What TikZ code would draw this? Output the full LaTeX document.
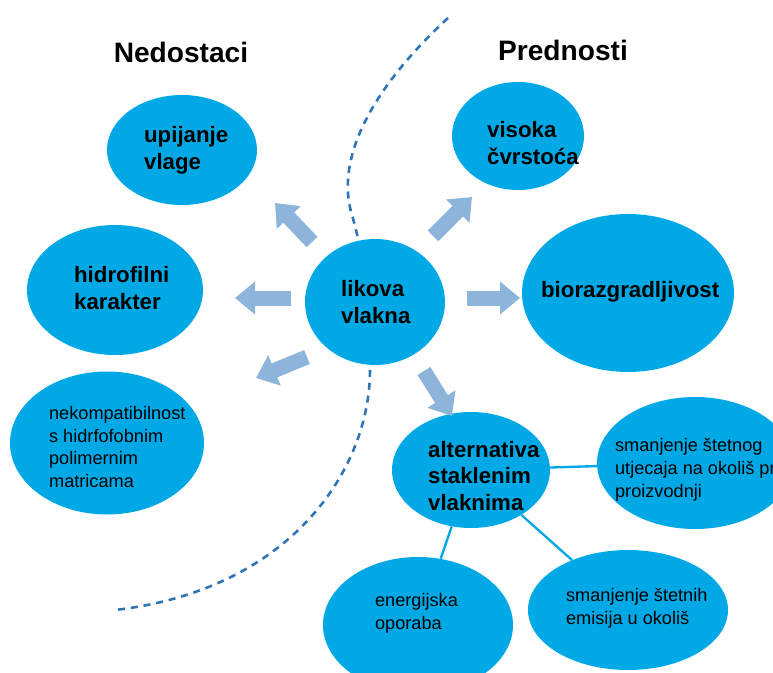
\documentclass[tikz,border=0pt]{standalone}
\usepackage{fontspec}
\setmainfont{Liberation Sans}
\usetikzlibrary{shapes.geometric,arrows.meta}

\definecolor{bubblecol}{RGB}{0,169,230}
\definecolor{arrowcol}{RGB}{141,180,218}
\definecolor{curvecol}{RGB}{46,117,182}

\tikzset{
  bubble/.style={ellipse, fill=bubblecol, inner sep=0pt},
  boldtext/.style={font=\fontsize{19}{23}\selectfont\bfseries, align=left, anchor=west},
  plaintext/.style={font=\fontsize{15.5}{19.5}\selectfont, align=left, anchor=west},
  heading/.style={font=\fontsize{24}{28}\selectfont\bfseries},
  fatarrow/.style={arrowcol, line width=0.45cm, -{Triangle[width=0.95cm,length=0.6cm]}},
  link/.style={draw=bubblecol, line width=2pt}
}

\begin{document}
\begin{tikzpicture}[x=0.03cm, y=-0.03cm]

        \useasboundingbox (0,0) rectangle (773,673);
        \clip (0,0) rectangle (773,673);

        %Dividing curve
        \draw [curvecol, line width=2.2pt, dash pattern=on 6pt off 5pt]
          (448,18) .. controls (370,90) and (335,160) .. (352,215)
          .. controls (365,260) and (372,320) .. (370,370)
          .. controls (370,470) and (290,590) .. (115,610);

        %Headings
        \node [heading] (ned) at (181,52) {Nedostaci};
        \node [heading] (pre) at (563,50) {Prednosti};

        %Bubbles
        \node [bubble, minimum width=4.5cm, minimum height=3.3cm] (upij) at (182,150) {};
        \node [bubble, minimum width=5.28cm, minimum height=3.9cm] (hidro) at (115,290) {};
        \node [bubble, minimum width=5.82cm, minimum height=4.29cm] (nekomp) at (107,443) {};
        \node [bubble, minimum width=4.2cm, minimum height=3.78cm] (likova) at (375,302) {};
        \node [bubble, minimum width=3.96cm, minimum height=3.24cm] (visoka) at (518,136) {};
        \node [bubble, minimum width=6.36cm, minimum height=4.74cm] (bioraz) at (628,293) {};
        \node [bubble, minimum width=4.74cm, minimum height=3.48cm] (alt) at (471,470) {};
        \node [bubble, minimum width=5.88cm, minimum height=3.96cm] (stetnog) at (695,463) {};
        \node [bubble, minimum width=5.7cm, minimum height=4.08cm] (energ) at (418,625) {};
        \node [bubble, minimum width=6.0cm, minimum height=3.6cm] (emisija) at (628,610) {};

        %Links
        \draw [link] (alt) -- (stetnog);
        \draw [link] (alt) -- (energ);
        \draw [link] (alt) -- (emisija);

        %Arrows
        \coordinate (ulA) at (312,242); \coordinate (ulB) at (275,203);
        \coordinate (lA) at (291,298);  \coordinate (lB) at (235,298);
        \coordinate (dlA) at (307,357); \coordinate (dlB) at (256,378);
        \coordinate (urA) at (433,236); \coordinate (urB) at (472,197);
        \coordinate (rA) at (467,298);  \coordinate (rB) at (520,298);
        \coordinate (dA) at (424,371);  \coordinate (dB) at (452,416);
        \draw [fatarrow] (ulA) -- (ulB);
        \draw [fatarrow] (lA) -- (lB);
        \draw [fatarrow] (dlA) -- (dlB);
        \draw [fatarrow] (urA) -- (urB);
        \draw [fatarrow] (rA) -- (rB);
        \draw [fatarrow] (dA) -- (dB);

        %Texts
        \node [boldtext] (tupij) at (140,150) {upijanje\\vlage};
        \node [boldtext] (thidro) at (70,288) {hidrofilni\\karakter};
        \node [plaintext] (tnekomp) at (45,447) {nekompatibilnost\\s hidrfofobnim\\polimernim\\matricama};
        \node [boldtext] (tlikova) at (337,302) {likova\\vlakna};
        \node [boldtext] (tvisoka) at (483,143) {visoka\\čvrstoća};
        \node [boldtext] (tbioraz) at (537,292) {biorazgradljivost};
        \node [boldtext] (talt) at (424,476) {alternativa\\staklenim\\vlaknima};
        \node [plaintext] (tstetnog) at (611,470) {smanjenje štetnog\\utjecaja na okoliš pri\\proizvodnji};
        \node [plaintext] (tenerg) at (371,613) {energijska\\oporaba};
        \node [plaintext] (temisija) at (562,608) {smanjenje štetnih\\emisija u okoliš};

\end{tikzpicture}
\end{document}
